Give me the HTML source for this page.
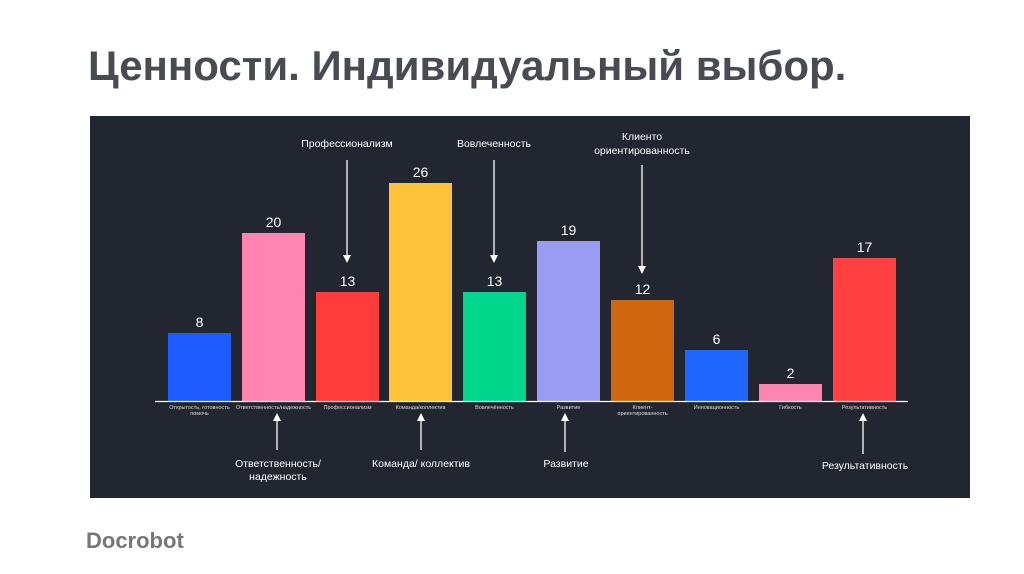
<!DOCTYPE html>
<html><head><meta charset="utf-8"><style>
body{margin:0;width:1024px;height:574px;background:#fff;overflow:hidden;font-family:"Liberation Sans",sans-serif}
h1{position:absolute;left:88px;top:42px;margin:0;font-size:42px;font-weight:bold;color:#474c53;white-space:nowrap}
.logo{position:absolute;left:86px;top:528px;font-size:22px;font-weight:bold;color:#777}
</style></head><body>
<h1>Ценности. Индивидуальный выбор.</h1>
<svg style="position:absolute;left:0;top:0" width="1024" height="574" font-family="Liberation Sans, sans-serif">
<rect x="90" y="116" width="880" height="382" fill="#222630"/>
<g font-size="14" fill="#fff" text-anchor="middle">
<rect x="168" y="333" width="63" height="68" fill="#1f5cff"/><text x="199.5" y="327">8</text>
<rect x="242" y="233" width="63" height="168" fill="#ff85b0"/><text x="273.5" y="227">20</text>
<rect x="316" y="292" width="63" height="109" fill="#ff3b3b"/><text x="347.5" y="286">13</text>
<rect x="389" y="183" width="63" height="218" fill="#ffc23a"/><text x="420.5" y="177">26</text>
<rect x="463" y="292" width="63" height="109" fill="#00d68c"/><text x="494.5" y="286">13</text>
<rect x="537" y="241" width="63" height="160" fill="#9a9bf2"/><text x="568.5" y="235">19</text>
<rect x="611" y="300" width="63" height="101" fill="#d0670f"/><text x="642.5" y="294">12</text>
<rect x="685" y="350" width="63" height="51" fill="#1f66ff"/><text x="716.5" y="344">6</text>
<rect x="759" y="384" width="63" height="17" fill="#ff85b0"/><text x="790.5" y="378">2</text>
<rect x="833" y="258" width="63" height="143" fill="#ff4040"/><text x="864.5" y="252">17</text>
</g>
<line x1="155" y1="401.5" x2="908" y2="401.5" stroke="#fff" stroke-width="1.2"/>
<g font-size="5.5" fill="#ddd" text-anchor="middle">
<text x="199.5" y="409">Открытость, готовность</text><text x="199.5" y="415">помочь</text>
<text x="273.5" y="409">Ответственность/надежность</text>
<text x="347.5" y="409">Профессионализм</text>
<text x="420.5" y="409">Команда/коллектив</text>
<text x="494.5" y="409">Вовлечённость</text>
<text x="568.5" y="409">Развитие</text>
<text x="642.5" y="409">Клиент-</text><text x="642.5" y="415">ориентированность</text>
<text x="716.5" y="409">Инновационность</text>
<text x="790.5" y="409">Гибкость</text>
<text x="864.5" y="409">Результативность</text>
</g>
<g font-size="10.5" fill="#fff" text-anchor="middle">
<text x="347" y="147">Профессионализм</text>
<text x="494" y="147">Вовлеченность</text>
<text x="642" y="140">Клиенто</text><text x="642" y="154">ориентированность</text>
<text x="278" y="467">Ответственность/</text><text x="278" y="480">надежность</text>
<text x="421" y="467">Команда/ коллектив</text>
<text x="566" y="467">Развитие</text>
<text x="865" y="469">Результативность</text>
</g>
<g stroke="#fff" stroke-width="1.3">
<line x1="347" y1="160" x2="347" y2="256"/>
<line x1="494" y1="160" x2="494" y2="256"/>
<line x1="642" y1="165" x2="642" y2="267"/>
<line x1="277" y1="450" x2="277" y2="420"/>
<line x1="421" y1="450" x2="421" y2="420"/>
<line x1="565" y1="452" x2="565" y2="420"/>
<line x1="863" y1="454" x2="863" y2="420"/>
</g>
<g fill="#fff">
<path d="M343,255 L351,255 L347,263 Z"/>
<path d="M490,255 L498,255 L494,263 Z"/>
<path d="M638,266 L646,266 L642,274 Z"/>
<path d="M273,421 L281,421 L277,413 Z"/>
<path d="M417,421 L425,421 L421,413 Z"/>
<path d="M561,421 L569,421 L565,413 Z"/>
<path d="M859,421 L867,421 L863,413 Z"/>
</g>
</svg>
<div class="logo">Docrobot</div>
</body></html>
